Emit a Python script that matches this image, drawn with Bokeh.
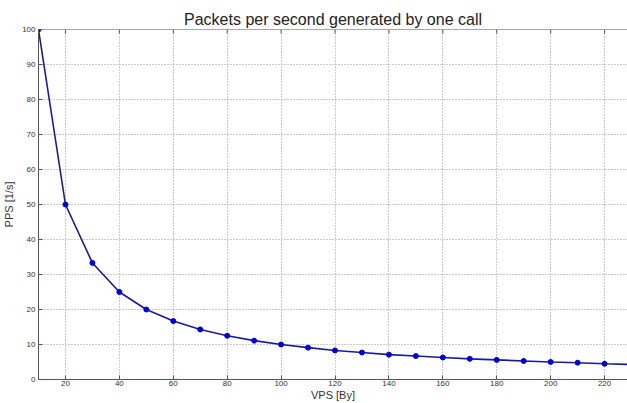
import math
from bokeh.plotting import figure
from bokeh.models import Range1d, FixedTicker, Span
from bokeh.embed import file_html
from bokeh.resources import INLINE

vps = [10, 20, 30, 40, 50, 60, 70, 80, 90, 100, 110, 120, 130, 140, 150, 160,
       170, 180, 190, 200, 210, 220, 230]
pps = [100, 50, 33.3, 25, 20, 16.7, 14.3, 12.5, 11.1, 10, 9.1, 8.3, 7.7, 7.1,
       6.7, 6.3, 5.9, 5.6, 5.3, 5.0, 4.8, 4.5, 4.3]
x_ticks = [20, 40, 60, 80, 100, 120, 140, 160, 180, 200, 220]
y_ticks = [0, 10, 20, 30, 40, 50, 60, 70, 80, 90, 100]

FONT = "Liberation Sans"
TXT = "#333333"
AX = "#555555"

p = figure(width=627, height=403, output_backend="svg", toolbar_location=None,
           x_range=Range1d(10, 228.5), y_range=Range1d(0, 100),
           min_border_left=38, min_border_right=0, min_border_top=29,
           min_border_bottom=23)
p.title.text = "Packets per second generated by one call"
p.title.align = "center"
p.title.text_font = FONT
p.title.text_font_size = "16px"
p.title.text_font_style = "normal"
p.title.text_color = "#222222"
p.title.offset = 0
p.title.standoff = 4
p.outline_line_color = None
p.background_fill_color = "white"
p.border_fill_color = "white"

for ax in (p.xaxis[0], p.yaxis[0]):
    ax.major_tick_in = 4
    ax.major_tick_out = 0
    ax.minor_tick_in = 0
    ax.minor_tick_out = 0
    ax.axis_line_color = AX
    ax.major_tick_line_color = AX
    ax.major_label_text_font = FONT
    ax.major_label_text_font_size = "8px"
    ax.major_label_text_color = TXT
    ax.axis_label_text_font = FONT
    ax.axis_label_text_font_size = "11px"
    ax.axis_label_text_font_style = "normal"
    ax.axis_label_text_color = TXT

p.xaxis[0].ticker = FixedTicker(ticks=x_ticks)
p.yaxis[0].ticker = FixedTicker(ticks=y_ticks)
p.xaxis[0].axis_label = "VPS [By]"
p.yaxis[0].axis_label = "PPS [1/s]"
p.xaxis[0].major_label_standoff = 1
p.xaxis[0].axis_label_standoff = 0
p.yaxis[0].major_label_standoff = 3
p.yaxis[0].axis_label_standoff = 4

# top frame line with inward ticks (MATLAB style box)
p.add_layout(Span(location=100, dimension="width", line_color=AX, line_width=1))
p.ray(x=x_ticks, y=[100] * len(x_ticks), length=4, length_units="screen",
      angle=-math.pi / 2, line_color=AX, line_width=1)

p.xgrid.ticker = FixedTicker(ticks=x_ticks)
p.ygrid.ticker = FixedTicker(ticks=y_ticks)
for g in (p.xgrid[0], p.ygrid[0]):
    g.grid_line_color = "#999999"
    g.grid_line_dash = "1 2"
    g.grid_line_width = 1

p.line(vps, pps, line_color="#1a1a99", line_width=1.6)
p.scatter(vps, pps, size=5, fill_color="#0000dd", line_color="#0000dd")

open("out.html", "w").write(file_html(p, INLINE))
